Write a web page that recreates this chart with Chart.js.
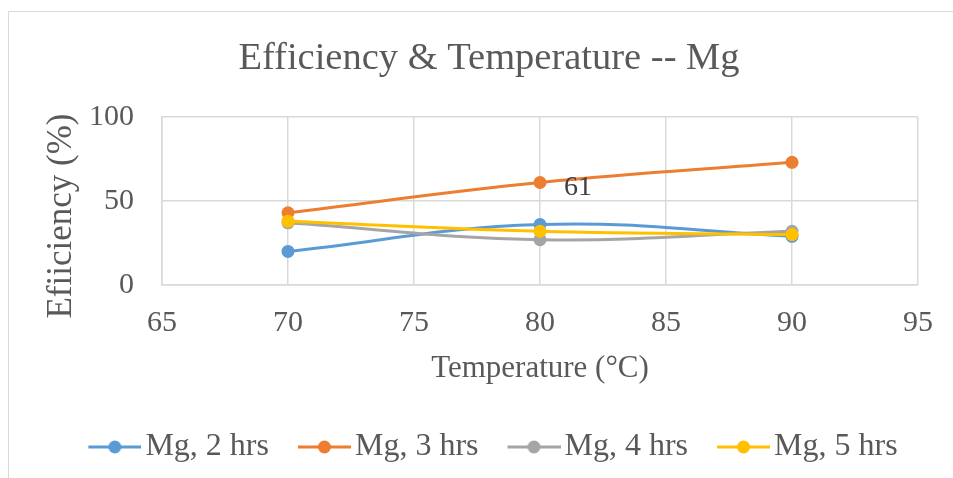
<!DOCTYPE html>
<html>
<head>
<meta charset="utf-8">
<script src="https://cdn.jsdelivr.net/npm/chart.js@4/dist/chart.umd.min.js"></script>
<style>
  html, body { margin: 0; padding: 0; background: #fff; overflow: hidden; }
  #frame { position: absolute; left: 8px; top: 11px; width: 1000px; height: 520px;
           border: 1px solid #d9d9d9; box-sizing: border-box; }
  #wrap { position: absolute; left: 0; top: 0; width: 953px; height: 478px; }
</style>
</head>
<body>
<div id="frame"></div>
<div id="wrap"><canvas id="chart" width="953" height="478"></canvas></div>
<script>
// Reaction temperature (°C) and extraction efficiency (%) per reaction time
const temperatures = [70, 80, 90];
const eff2h = [20, 36, 29];
const eff3h = [43, 61, 73];
const eff4h = [37, 27, 32];
const eff5h = [38, 32, 30];
const seriesNames = ['Mg, 2 hrs', 'Mg, 3 hrs', 'Mg, 4 hrs', 'Mg, 5 hrs'];
const seriesColors = ['#5B9BD5', '#ED7D31', '#A5A5A5', '#FFC000'];
const xTicks = [65, 70, 75, 80, 85, 90, 95];
const yTicks = [0, 50, 100];
const yTitle = 'Efiiciency (%)';

const FONT = '"Liberation Serif", "Times New Roman", serif';
const TEXT = '#595959';
const GRID = '#d9d9d9';

// Legend swatch: short line with a round marker in the middle,
// with a transparent lead-in so the swatch sits close to its text
const LEAD = 20;
function swatch(color) {
  const c = document.createElement('canvas');
  c.width = 53 + LEAD; c.height = 16;
  const g = c.getContext('2d');
  g.strokeStyle = color; g.lineWidth = 3;
  g.beginPath(); g.moveTo(LEAD, 8); g.lineTo(LEAD + 53, 8); g.stroke();
  g.fillStyle = color;
  g.beginPath(); g.arc(LEAD + 26.5, 8, 6.5, 0, Math.PI * 2); g.fill();
  return c;
}

const seriesValues = [eff2h, eff3h, eff4h, eff5h];
const datasets = seriesValues.map((vals, i) => ({
  label: seriesNames[i],
  data: temperatures.map((t, j) => ({ x: t, y: vals[j] })),
  borderColor: seriesColors[i],
  backgroundColor: seriesColors[i],
  borderWidth: 3,
  pointRadius: 6.5,
  pointHoverRadius: 6.5,
  pointBorderWidth: 0,
  pointStyle: 'circle',
  tension: 0.4,
  fill: false,
  order: seriesValues.length - i   // later series painted on top
}));

// Value label on the 3 hrs series at 80 °C
const labelled = { dataset: 1, index: 1 };
const valueLabel = {
  id: 'valueLabel',
  afterDatasetsDraw(chart) {
    const meta = chart.getDatasetMeta(labelled.dataset);
    const pt = meta.data[labelled.index];
    const v = chart.data.datasets[labelled.dataset].data[labelled.index].y;
    const ctx = chart.ctx;
    ctx.save();
    ctx.font = '28px ' + FONT;
    ctx.fillStyle = '#404040';
    ctx.textAlign = 'left';
    ctx.textBaseline = 'middle';
    ctx.fillText(String(v), pt.x + 24, pt.y + 5);
    ctx.restore();
  }
};

// Vertical axis title, set slightly below the middle of the plot
const sideTitle = {
  id: 'sideTitle',
  afterDraw(chart) {
    const a = chart.chartArea;
    const ctx = chart.ctx;
    ctx.save();
    ctx.translate(62, (a.top + a.bottom) / 2 + 15);
    ctx.rotate(-Math.PI / 2);
    ctx.font = '35px ' + FONT;
    ctx.fillStyle = TEXT;
    ctx.textAlign = 'center';
    ctx.textBaseline = 'middle';
    ctx.fillText(yTitle, 0, 0);
    ctx.restore();
  }
};

new Chart(document.getElementById('chart'), {
  type: 'line',
  data: { datasets },
  plugins: [valueLabel, sideTitle],
  options: {
    responsive: false,
    animation: false,
    events: [],
    layout: { padding: { left: 55, right: 30, top: 0, bottom: 5 } },
    plugins: {
      title: {
        display: true,
        text: 'Efficiency & Temperature -- Mg',
        color: TEXT,
        font: { family: FONT, size: 38.5, weight: 'normal' },
        padding: { top: 36, bottom: 34.8 }
      },
      legend: {
        position: 'bottom',
        labels: {
          usePointStyle: true,
          pointStyleWidth: 29 + LEAD,
          padding: 21,
          color: TEXT,
          font: { family: FONT, size: 32 },
          generateLabels(chart) {
            return chart.data.datasets.map((ds, i) => ({
              text: ds.label,
              pointStyle: swatch(ds.borderColor),
              fillStyle: ds.borderColor,
              strokeStyle: ds.borderColor,
              lineWidth: 0,
              fontColor: TEXT,
              hidden: false,
              datasetIndex: i
            }));
          }
        }
      },
      tooltip: { enabled: false }
    },
    scales: {
      x: {
        type: 'linear',
        min: xTicks[0],
        max: xTicks[xTicks.length - 1],
        afterBuildTicks(scale) { scale.ticks = xTicks.map(v => ({ value: v })); },
        afterFit(scale) { scale.height = 125; },
        ticks: { color: TEXT, font: { family: FONT, size: 30 }, padding: 20, maxRotation: 0 },
        grid: { color: GRID, lineWidth: 1.5, drawTicks: false },
        border: { color: GRID, width: 1.5 },
        title: {
          display: true,
          text: 'Temperature (°C)',
          color: TEXT,
          font: { family: FONT, size: 31 },
          padding: { top: 0, bottom: 23 }
        }
      },
      y: {
        min: yTicks[0],
        max: yTicks[yTicks.length - 1],
        afterBuildTicks(scale) { scale.ticks = yTicks.map(v => ({ value: v })); },
        afterFit(scale) { scale.width = 107; },
        ticks: { color: TEXT, font: { family: FONT, size: 30 }, padding: 28 },
        grid: { color: GRID, lineWidth: 1.5, drawTicks: false },
        border: { color: GRID, width: 1.5 }
      }
    }
  }
});
</script>
</body>
</html>
